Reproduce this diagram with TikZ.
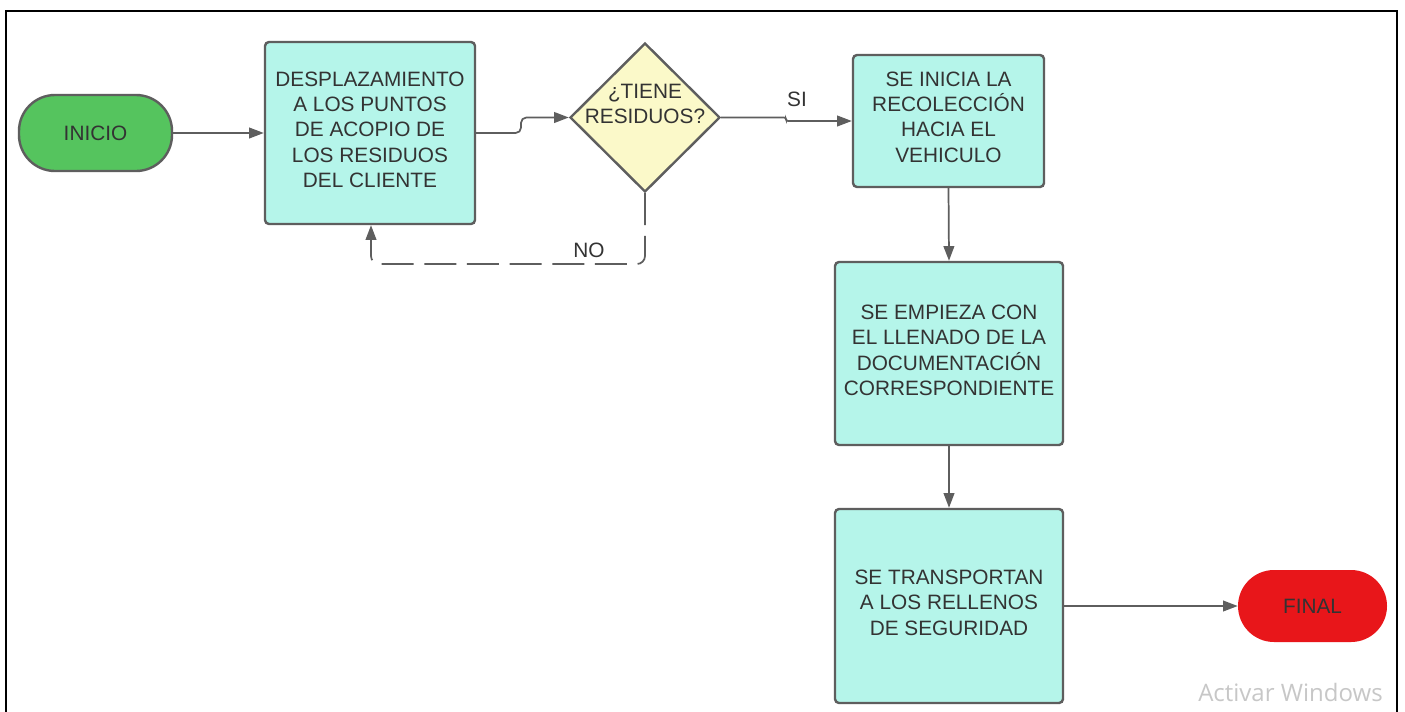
\documentclass[tikz,border=0pt]{standalone}
\usepackage{fontspec}
\setmainfont{Liberation Sans}
\newfontfamily\winfont{Open Sans}
\usetikzlibrary{shapes.geometric,arrows.meta}
\definecolor{edge}{HTML}{5E5E5E}
\definecolor{txt}{HTML}{333333}
\definecolor{aqua}{HTML}{B5F5EA}
\definecolor{pale}{HTML}{FBF9C9}
\definecolor{startgreen}{HTML}{55C45E}
\definecolor{endred}{HTML}{E8161A}
\begin{document}
\begin{tikzpicture}[x=0.75pt,y=-0.75pt,
  every node/.style={font=\fontsize{15.6}{19}\selectfont, text=txt},
  proc/.style={draw=edge, line width=1.8pt, fill=aqua, rounded corners=3pt, align=center, inner sep=0pt, text depth=5pt},
  pill/.style={rounded corners=27pt, inner sep=0pt},
  conn/.style={draw=edge, line width=1.3pt, -{Triangle[length=11pt,width=8pt]}},
  lbl/.style={inner sep=0pt}]
\useasboundingbox (0,0) rectangle (1405,711);
\fill[white] (0,0) rectangle (1405,711);
\draw[black, line width=1.5pt] (6,740) -- (6,11) -- (1397,11) -- (1397,740);

\node[pill, draw=edge, line width=1.8pt, fill=startgreen, minimum width=114.75pt, minimum height=57pt] (ini) at (95.5,133) {INICIO};
\node[proc, minimum width=157.5pt, minimum height=136.5pt] (b1) at (370,133) {DESPLAZAMIENTO\\A LOS PUNTOS\\DE ACOPIO DE\\LOS RESIDUOS\\DEL CLIENTE};
\node[diamond, draw=edge, line width=1.8pt, fill=pale, minimum width=112.5pt, minimum height=111.75pt, inner sep=0pt] (dec) at (645,117.5) {};
\node[lbl, align=center] (dect) at (645,104) {¿TIENE\\RESIDUOS?};
\node[proc, minimum width=143.25pt, minimum height=99pt, text depth=6pt] (b2) at (948.5,121) {SE INICIA LA\\RECOLECCIÓN\\HACIA EL\\VEHICULO};
\node[proc, minimum width=171pt, minimum height=137.25pt] (b3) at (949,353.5) {SE EMPIEZA CON\\EL LLENADO DE LA\\DOCUMENTACIÓN\\CORRESPONDIENTE};
\node[proc, minimum width=171pt, minimum height=145.5pt] (b4) at (949,606) {SE TRANSPORTAN\\A LOS RELLENOS\\DE SEGURIDAD};
\node[pill, fill=endred, minimum width=111.75pt, minimum height=54pt, text=txt] (fin) at (1312.5,606) {FINAL};

\draw[conn] (ini.east) -- (b1.west);
\draw[conn, rounded corners=4pt] (b1.east) -- (521,133) -- (521,117.5) -- (dec.west);
\draw[conn, rounded corners=1.5pt] (dec.east) -- (786,117.5) -- (786,121) -- (b2.west);
\node[lbl] (si) at (797,99) {SI};
\draw[conn, dash pattern=on 24pt off 8pt, rounded corners=6pt] (dec.south) -- (645,264) -- (371,264) -- (b1.south -| 371,0);
\node[lbl] (no) at (589,250) {NO};
\draw[conn] (b2.south) -- (b3.north);
\draw[conn] (b3.south) -- (b4.north);
\draw[conn] (b4.east) -- (fin.west);

\node[anchor=base west, inner sep=0pt, text=black!22, font=\winfont\fontsize{18}{20}\selectfont] (win) at (1198,701) {Activar Windows};
\end{tikzpicture}
\end{document}
